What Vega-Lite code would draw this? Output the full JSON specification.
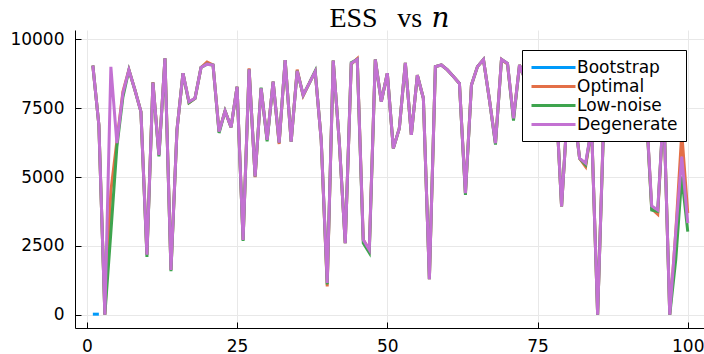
{
  "$schema": "https://vega.github.io/schema/vega-lite/v6.json",
  "width": 629,
  "height": 298,
  "autosize": {"type": "none"},
  "padding": {"left": 75, "top": 30, "right": 0, "bottom": 26},
  "background": "white",
  "title": {"text": "ESS\u2002\u2009vs\u2004𝑛", "font": "Liberation Serif, DejaVu Serif", "fontSize": 28, "fontWeight": "normal", "color": "black", "anchor": "middle", "frame": "group", "offset": -3},
  "config": {
    "view": {"stroke": null},
    "axis": {
      "labelFont": "DejaVu Sans", "labelFontSize": 17, "labelColor": "black",
      "domainColor": "black", "domainWidth": 1, "tickColor": "black", "tickSize": -6, "tickWidth": 1,
      "gridColor": "#e8e8e8", "gridWidth": 1, "title": null
    }
  },
  "data": {"values": [
    {"n":1,"Bootstrap":20,"Optimal":9050,"Low-noise":9050,"Degenerate":9050},
    {"n":2,"Bootstrap":20,"Optimal":6900,"Low-noise":6900,"Degenerate":6900},
    {"n":3,"Bootstrap":null,"Optimal":0,"Low-noise":0,"Degenerate":0},
    {"n":4,"Bootstrap":null,"Optimal":4500,"Low-noise":3000,"Degenerate":9000},
    {"n":5,"Bootstrap":null,"Optimal":6300,"Low-noise":6100,"Degenerate":6230},
    {"n":6,"Bootstrap":null,"Optimal":8100,"Low-noise":7900,"Degenerate":8040},
    {"n":7,"Bootstrap":null,"Optimal":8890,"Low-noise":8890,"Degenerate":8890},
    {"n":8,"Bootstrap":null,"Optimal":8160,"Low-noise":8160,"Degenerate":8160},
    {"n":9,"Bootstrap":null,"Optimal":7375,"Low-noise":7375,"Degenerate":7375},
    {"n":10,"Bootstrap":null,"Optimal":2180,"Low-noise":2100,"Degenerate":2180},
    {"n":11,"Bootstrap":null,"Optimal":8450,"Low-noise":8430,"Degenerate":8430},
    {"n":12,"Bootstrap":null,"Optimal":5800,"Low-noise":5750,"Degenerate":5800},
    {"n":13,"Bootstrap":null,"Optimal":9310,"Low-noise":9310,"Degenerate":9310},
    {"n":14,"Bootstrap":null,"Optimal":1630,"Low-noise":1580,"Degenerate":1630},
    {"n":15,"Bootstrap":null,"Optimal":6710,"Low-noise":6710,"Degenerate":6710},
    {"n":16,"Bootstrap":null,"Optimal":8770,"Low-noise":8770,"Degenerate":8770},
    {"n":17,"Bootstrap":null,"Optimal":7700,"Low-noise":7700,"Degenerate":7740},
    {"n":18,"Bootstrap":null,"Optimal":7860,"Low-noise":7860,"Degenerate":7860},
    {"n":19,"Bootstrap":null,"Optimal":8980,"Low-noise":8980,"Degenerate":8980},
    {"n":20,"Bootstrap":null,"Optimal":9180,"Low-noise":9100,"Degenerate":9100},
    {"n":21,"Bootstrap":null,"Optimal":9070,"Low-noise":9070,"Degenerate":9070},
    {"n":22,"Bootstrap":null,"Optimal":6650,"Low-noise":6600,"Degenerate":6650},
    {"n":23,"Bootstrap":null,"Optimal":7400,"Low-noise":7400,"Degenerate":7400},
    {"n":24,"Bootstrap":null,"Optimal":6810,"Low-noise":6810,"Degenerate":6810},
    {"n":25,"Bootstrap":null,"Optimal":8280,"Low-noise":8280,"Degenerate":8280},
    {"n":26,"Bootstrap":null,"Optimal":2720,"Low-noise":2680,"Degenerate":2720},
    {"n":27,"Bootstrap":null,"Optimal":8950,"Low-noise":8910,"Degenerate":8910},
    {"n":28,"Bootstrap":null,"Optimal":5000,"Low-noise":5020,"Degenerate":5020},
    {"n":29,"Bootstrap":null,"Optimal":8220,"Low-noise":8250,"Degenerate":8220},
    {"n":30,"Bootstrap":null,"Optimal":6350,"Low-noise":6300,"Degenerate":6350},
    {"n":31,"Bootstrap":null,"Optimal":8460,"Low-noise":8460,"Degenerate":8460},
    {"n":32,"Bootstrap":null,"Optimal":6200,"Low-noise":6250,"Degenerate":6250},
    {"n":33,"Bootstrap":null,"Optimal":9250,"Low-noise":9250,"Degenerate":9250},
    {"n":34,"Bootstrap":null,"Optimal":6290,"Low-noise":6290,"Degenerate":6290},
    {"n":35,"Bootstrap":null,"Optimal":8900,"Low-noise":8860,"Degenerate":8860},
    {"n":36,"Bootstrap":null,"Optimal":7950,"Low-noise":7980,"Degenerate":7980},
    {"n":37,"Bootstrap":null,"Optimal":8400,"Low-noise":8400,"Degenerate":8400},
    {"n":38,"Bootstrap":null,"Optimal":8830,"Low-noise":8850,"Degenerate":8830},
    {"n":39,"Bootstrap":null,"Optimal":6350,"Low-noise":6350,"Degenerate":6350},
    {"n":40,"Bootstrap":null,"Optimal":1030,"Low-noise":1100,"Degenerate":1150},
    {"n":41,"Bootstrap":null,"Optimal":9230,"Low-noise":9230,"Degenerate":9230},
    {"n":42,"Bootstrap":null,"Optimal":6300,"Low-noise":6300,"Degenerate":6300},
    {"n":43,"Bootstrap":null,"Optimal":2600,"Low-noise":2600,"Degenerate":2600},
    {"n":44,"Bootstrap":null,"Optimal":9100,"Low-noise":9150,"Degenerate":9130},
    {"n":45,"Bootstrap":null,"Optimal":9300,"Low-noise":9270,"Degenerate":9270},
    {"n":46,"Bootstrap":null,"Optimal":2720,"Low-noise":2600,"Degenerate":2720},
    {"n":47,"Bootstrap":null,"Optimal":2360,"Low-noise":2250,"Degenerate":2360},
    {"n":48,"Bootstrap":null,"Optimal":9270,"Low-noise":9270,"Degenerate":9270},
    {"n":49,"Bootstrap":null,"Optimal":7740,"Low-noise":7740,"Degenerate":7740},
    {"n":50,"Bootstrap":null,"Optimal":8770,"Low-noise":8770,"Degenerate":8770},
    {"n":51,"Bootstrap":null,"Optimal":6040,"Low-noise":6040,"Degenerate":6040},
    {"n":52,"Bootstrap":null,"Optimal":6770,"Low-noise":6770,"Degenerate":6770},
    {"n":53,"Bootstrap":null,"Optimal":9150,"Low-noise":9150,"Degenerate":9150},
    {"n":54,"Bootstrap":null,"Optimal":6530,"Low-noise":6530,"Degenerate":6530},
    {"n":55,"Bootstrap":null,"Optimal":8700,"Low-noise":8700,"Degenerate":8700},
    {"n":56,"Bootstrap":null,"Optimal":7860,"Low-noise":7860,"Degenerate":7860},
    {"n":57,"Bootstrap":null,"Optimal":1290,"Low-noise":1290,"Degenerate":1290},
    {"n":58,"Bootstrap":null,"Optimal":9010,"Low-noise":9010,"Degenerate":9010},
    {"n":59,"Bootstrap":null,"Optimal":9070,"Low-noise":9070,"Degenerate":9070},
    {"n":60,"Bootstrap":null,"Optimal":8890,"Low-noise":8890,"Degenerate":8890},
    {"n":61,"Bootstrap":null,"Optimal":8650,"Low-noise":8650,"Degenerate":8650},
    {"n":62,"Bootstrap":null,"Optimal":8400,"Low-noise":8400,"Degenerate":8400},
    {"n":63,"Bootstrap":null,"Optimal":4410,"Low-noise":4350,"Degenerate":4410},
    {"n":64,"Bootstrap":null,"Optimal":8340,"Low-noise":8340,"Degenerate":8340},
    {"n":65,"Bootstrap":null,"Optimal":9010,"Low-noise":9010,"Degenerate":9010},
    {"n":66,"Bootstrap":null,"Optimal":9270,"Low-noise":9270,"Degenerate":9270},
    {"n":67,"Bootstrap":null,"Optimal":7800,"Low-noise":7800,"Degenerate":7800},
    {"n":68,"Bootstrap":null,"Optimal":6230,"Low-noise":6180,"Degenerate":6230},
    {"n":69,"Bootstrap":null,"Optimal":9270,"Low-noise":9270,"Degenerate":9270},
    {"n":70,"Bootstrap":null,"Optimal":9100,"Low-noise":9130,"Degenerate":9130},
    {"n":71,"Bootstrap":null,"Optimal":7130,"Low-noise":7050,"Degenerate":7130},
    {"n":72,"Bootstrap":null,"Optimal":9070,"Low-noise":9070,"Degenerate":9070},
    {"n":73,"Bootstrap":null,"Optimal":8500,"Low-noise":8500,"Degenerate":8500},
    {"n":74,"Bootstrap":null,"Optimal":8800,"Low-noise":8800,"Degenerate":8800},
    {"n":75,"Bootstrap":null,"Optimal":8300,"Low-noise":8300,"Degenerate":8300},
    {"n":76,"Bootstrap":null,"Optimal":9100,"Low-noise":9100,"Degenerate":9100},
    {"n":77,"Bootstrap":null,"Optimal":8600,"Low-noise":8600,"Degenerate":8600},
    {"n":78,"Bootstrap":null,"Optimal":8130,"Low-noise":8130,"Degenerate":8130},
    {"n":79,"Bootstrap":null,"Optimal":3930,"Low-noise":3930,"Degenerate":3930},
    {"n":80,"Bootstrap":null,"Optimal":7500,"Low-noise":7500,"Degenerate":7500},
    {"n":81,"Bootstrap":null,"Optimal":7500,"Low-noise":7500,"Degenerate":7500},
    {"n":82,"Bootstrap":null,"Optimal":5680,"Low-noise":5680,"Degenerate":5680},
    {"n":83,"Bootstrap":null,"Optimal":5380,"Low-noise":5450,"Degenerate":5500},
    {"n":84,"Bootstrap":null,"Optimal":6800,"Low-noise":6800,"Degenerate":6800},
    {"n":85,"Bootstrap":null,"Optimal":0,"Low-noise":0,"Degenerate":0},
    {"n":86,"Bootstrap":null,"Optimal":7000,"Low-noise":6900,"Degenerate":7000},
    {"n":87,"Bootstrap":null,"Optimal":8800,"Low-noise":8800,"Degenerate":8800},
    {"n":88,"Bootstrap":null,"Optimal":8400,"Low-noise":8400,"Degenerate":8400},
    {"n":89,"Bootstrap":null,"Optimal":9000,"Low-noise":9000,"Degenerate":9000},
    {"n":90,"Bootstrap":null,"Optimal":8600,"Low-noise":8600,"Degenerate":8600},
    {"n":91,"Bootstrap":null,"Optimal":8900,"Low-noise":8900,"Degenerate":8900},
    {"n":92,"Bootstrap":null,"Optimal":8500,"Low-noise":8500,"Degenerate":8500},
    {"n":93,"Bootstrap":null,"Optimal":7770,"Low-noise":7770,"Degenerate":7770},
    {"n":94,"Bootstrap":null,"Optimal":3850,"Low-noise":3800,"Degenerate":3950},
    {"n":95,"Bootstrap":null,"Optimal":3650,"Low-noise":3750,"Degenerate":3800},
    {"n":96,"Bootstrap":null,"Optimal":7600,"Low-noise":7600,"Degenerate":7600},
    {"n":97,"Bootstrap":null,"Optimal":0,"Low-noise":0,"Degenerate":0},
    {"n":98,"Bootstrap":null,"Optimal":3000,"Low-noise":2000,"Degenerate":3000},
    {"n":99,"Bootstrap":null,"Optimal":6600,"Low-noise":5020,"Degenerate":5740},
    {"n":100,"Bootstrap":null,"Optimal":3690,"Low-noise":3020,"Degenerate":3330}
  ]},
  "encoding": {
    "x": {"field": "n", "type": "quantitative", "scale": {"domain": [-1.97, 102.7], "nice": false, "zero": false},
      "axis": {"values": [0, 25, 50, 75, 100], "labelPadding": 16, "labelFlush": false}}
  },
  "layer": [
    {"mark": {"type": "line", "strokeWidth": 3, "clip": true},
     "encoding": {"y": {"field": "Bootstrap", "type": "quantitative", "scale": {"domain": [-482, 10340], "nice": false, "zero": false},
       "axis": {"values": [0, 2500, 5000, 7500, 10000], "format": "d", "labelPadding": 17}},
       "color": {"datum": "Bootstrap", "type": "nominal", "scale": {"domain": ["Bootstrap", "Optimal", "Low-noise", "Degenerate"], "range": ["#009AFA", "#E36F47", "#3EA44E", "#C371D2"]},
         "legend": {"orient": "none", "legendX": 447, "legendY": 20, "title": null, "symbolType": "M-2.75,0L2.75,0", "symbolSize": 256, "symbolStrokeWidth": 3, "symbolOffset": 14,
           "labelFont": "DejaVu Sans", "labelFontSize": 17, "labelColor": "black", "strokeColor": "black", "fillColor": "white", "padding": 8, "rowPadding": 1, "labelOffset": 14, "cornerRadius": 0}}}},
    {"mark": {"type": "line", "strokeWidth": 3, "clip": true},
     "encoding": {"y": {"field": "Optimal", "type": "quantitative"}, "color": {"datum": "Optimal", "type": "nominal"}}},
    {"mark": {"type": "line", "strokeWidth": 3, "clip": true},
     "encoding": {"y": {"field": "Low-noise", "type": "quantitative"}, "color": {"datum": "Low-noise", "type": "nominal"}}},
    {"mark": {"type": "line", "strokeWidth": 3, "clip": true},
     "encoding": {"y": {"field": "Degenerate", "type": "quantitative"}, "color": {"datum": "Degenerate", "type": "nominal"}}}
  ]
}
